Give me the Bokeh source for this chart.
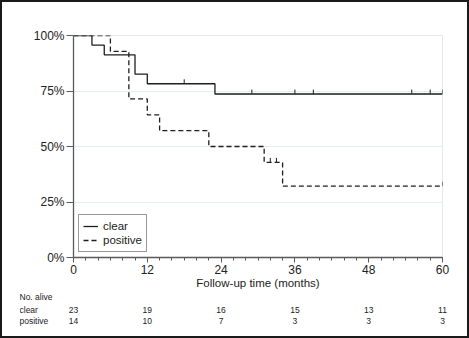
import numpy as np
from bokeh.plotting import figure
from bokeh.layouts import column, row
from bokeh.models import (Range1d, Legend, LegendItem, FixedTicker,
                          CustomJSTickFormatter, ColumnDataSource)
from bokeh.core.properties import value
from bokeh.embed import file_html
from bokeh.resources import INLINE

# ---- data ----
clear_t = [0, 3, 5, 10, 12, 23, 60]
clear_s = [100, 95.65, 91.30, 82.61, 78.26, 73.65, 73.65]
clear_cens = [18, 29, 36, 39, 55, 58, 60]

pos_t = [0, 6, 9, 12, 14, 22, 31, 34, 60]
pos_s = [100, 92.86, 71.43, 64.29, 57.14, 50.0, 42.86, 32.14, 32.14]
pos_cens = [32, 33, 60]

risk_times = [0, 12, 24, 36, 48, 60]
risk_clear = [23, 19, 16, 15, 13, 11]
risk_pos = [14, 10, 7, 3, 3, 3]
row_names = ["No. alive", "clear", "positive"]

x_ticks = [0, 12, 24, 36, 48, 60]
y_ticks = [0, 25, 50, 75, 100]

FONT = "Liberation Sans"
TXT = "#222222"
W = 465
PX_PER_MONTH = 369 / 60.0


def step_value(times, surv, t):
    idx = np.searchsorted(times, t, side="right") - 1
    return surv[idx]


# ---------------- main survival plot ----------------
TOP_H = 289
p = figure(width=W, height=TOP_H, output_backend="svg", toolbar_location=None,
           x_range=Range1d(0, 60), y_range=Range1d(0, 100),
           min_border_left=71, min_border_right=25, min_border_top=33,
           min_border_bottom=TOP_H - 222 - 33)
p.background_fill_color = "white"
p.border_fill_color = "white"
p.outline_line_color = "#e3e9ed"
p.outline_line_width = 1

p.xgrid.visible = False
p.ygrid.ticker = FixedTicker(ticks=y_ticks)
p.ygrid.grid_line_color = "#e6edf1"
p.ygrid.grid_line_width = 1

p.xaxis.ticker = FixedTicker(ticks=x_ticks, minor_ticks=list(range(0, 61, 2)))
p.yaxis.ticker = FixedTicker(ticks=y_ticks)
p.yaxis.formatter = CustomJSTickFormatter(code="return tick + '%';")
for ax in (p.xaxis[0], p.yaxis[0]):
    ax.axis_line_color = "#5a5a5a"
    ax.axis_line_width = 1.3
    ax.major_tick_line_color = "#5a5a5a"
    ax.minor_tick_line_color = "#5a5a5a"
    ax.major_tick_in = 0
    ax.minor_tick_in = 0
    ax.major_label_text_font = FONT
    ax.major_label_text_font_size = "12px"
    ax.major_label_text_color = TXT
    ax.axis_label_text_font = FONT
    ax.axis_label_text_font_style = "normal"
    ax.axis_label_text_color = TXT
p.xaxis.major_tick_out = 5
p.xaxis.minor_tick_out = 3
p.xaxis.major_label_standoff = 2
p.xaxis.axis_label = "Follow-up time (months)"
p.xaxis.axis_label_text_font_size = "11.5px"
p.xaxis.axis_label_standoff = 0
p.yaxis.major_tick_out = 7
p.yaxis.minor_tick_out = 0
p.yaxis.major_label_standoff = 2

r_clear = p.step(clear_t, clear_s, mode="after", line_color="#1e1e1e", line_width=1.3)
r_pos = p.step(pos_t, pos_s, mode="after", line_color="#1e1e1e", line_width=1.3,
               line_dash="5 3")

cy = [step_value(clear_t, clear_s, t) for t in clear_cens]
p.segment(x0=clear_cens, y0=cy, x1=clear_cens, y1=[v + 2 for v in cy],
          line_color="#1e1e1e", line_width=1)
py = [step_value(pos_t, pos_s, t) for t in pos_cens]
p.segment(x0=pos_cens, y0=py, x1=pos_cens, y1=[v + 2 for v in py],
          line_color="#1e1e1e", line_width=1)

legend = Legend(items=[LegendItem(label="clear", renderers=[r_clear]),
                       LegendItem(label="positive", renderers=[r_pos])],
                location="bottom_left")
legend.label_text_font = FONT
legend.label_text_font_size = "11.5px"
legend.label_text_color = TXT
legend.border_line_color = "#333333"
legend.border_line_width = 1
legend.background_fill_alpha = 1
legend.glyph_width = 15
legend.glyph_height = 14
legend.label_height = 14
legend.label_standoff = 5
legend.spacing = 0
legend.padding = 4
legend.margin = 5
p.add_layout(legend, "center")

# ---------------- number-at-risk table ----------------
TH = 334 - TOP_H
left_px, right_px = 17, 5   # table frame borders inside its canvas
x0 = -(71 - left_px) / PX_PER_MONTH
x1 = 60 + (25 - right_px) / PX_PER_MONTH
t = figure(width=W, height=TH, output_backend="svg", toolbar_location=None,
           x_range=Range1d(x0, x1), y_range=Range1d(TH, 0),
           x_axis_location=None, y_axis_location=None,
           min_border_left=left_px, min_border_right=right_px,
           min_border_top=0, min_border_bottom=0)
t.grid.visible = False
t.outline_line_color = None
t.background_fill_color = "white"
t.border_fill_color = "white"

top_of_table = 2 + TOP_H
row_y = [296 - top_of_table, 309 - top_of_table, 320 - top_of_table]
t.text(x=[x0] * 3, y=row_y, text=row_names, text_font=value(FONT),
       text_font_size="8.5px", text_color=TXT, text_align="left",
       text_baseline="middle")
src = ColumnDataSource(dict(
    x=risk_times + risk_times,
    y=[row_y[1]] * len(risk_times) + [row_y[2]] * len(risk_times),
    v=[str(v) for v in risk_clear] + [str(v) for v in risk_pos]))
t.text(x="x", y="y", text="v", source=src, text_font=value(FONT),
       text_font_size="8.5px", text_color=TXT, text_align="center",
       text_baseline="middle")

layout = column(column(p), row(t), spacing=0,
                styles={"border": "2px solid #1a1a1a"})

open("out.html", "w").write(file_html(layout, INLINE))
